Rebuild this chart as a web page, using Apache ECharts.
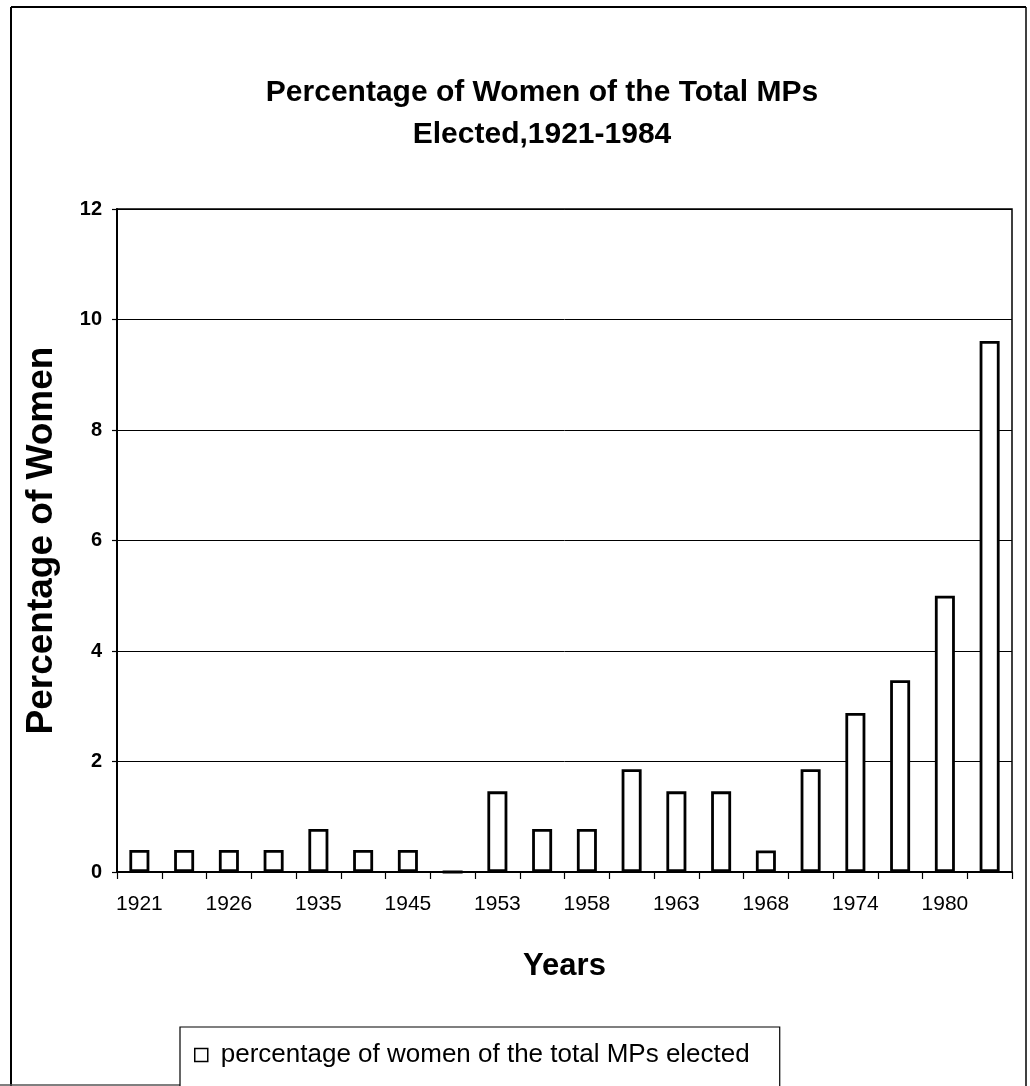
<!DOCTYPE html>
<html>
<head>
<meta charset="utf-8">
<script src="https://cdn.jsdelivr.net/npm/echarts@6/dist/echarts.min.js"></script>
<style>
  html, body { margin: 0; padding: 0; background: #fff; }
  #chart { width: 1030px; height: 1086px; }
</style>
</head>
<body>
<div id="chart"></div>
<script>
// Election years (every other label is visible on the axis; hidden ones are estimates)
const categories = ['1921','1923','1926','1930','1935','1940','1945','1949','1953','1955',
                    '1958','1960','1963','1965','1968','1970','1974','1977','1980','1984'];
// Percentage of women of the total MPs elected
const womenPct = [0.4, 0.4, 0.4, 0.4, 0.78, 0.4, 0.4, 0, 1.46, 0.78,
                  0.78, 1.86, 1.46, 1.46, 0.39, 1.86, 2.88, 3.47, 5.0, 9.61];
const yTicks = [0, 2, 4, 6, 8, 10, 12];

const FONT = "'Liberation Sans', Arial, sans-serif";
const chart = echarts.init(document.getElementById('chart'), null, { renderer: 'canvas' });

chart.setOption({
  backgroundColor: '#ffffff',
  animation: false,
  title: {
    text: 'Percentage of Women of the Total MPs\nElected,1921-1984',
    left: 542,
    textAlign: 'center',
    top: 72,
    padding: 0,
    textStyle: { fontFamily: FONT, fontSize: 30, fontWeight: 'bold', color: '#000', lineHeight: 42 }
  },
  grid: {
    left: 117, right: 18, top: 209, bottom: 214,
    show: true, borderColor: '#000', borderWidth: 1.5, backgroundColor: 'transparent'
  },
  legend: {
    data: ['percentage of women of the total MPs elected'],
    left: 180,
    top: 1027,
    orient: 'horizontal',
    padding: [15, 30, 40, 14],
    backgroundColor: '#fff',
    borderColor: '#000',
    borderWidth: 1.2,
    borderRadius: 0,
    itemWidth: 13,
    itemHeight: 13,
    icon: 'rect',
    itemStyle: { color: '#fff', borderColor: '#000', borderWidth: 1.5 },
    textStyle: { fontFamily: FONT, fontSize: 26, color: '#000', padding: [0, 0, 0, 8] }
  },
  xAxis: {
    type: 'category',
    data: categories,
    boundaryGap: true,
    name: 'Years',
    nameLocation: 'middle',
    nameGap: 79,
    nameTextStyle: { fontFamily: FONT, fontSize: 31, fontWeight: 'bold', color: '#000' },
    axisLine: { lineStyle: { color: '#000', width: 2 } },
    axisTick: { show: true, interval: 0, length: 7, lineStyle: { color: '#000', width: 1.2 } },
    axisLabel: { interval: 1, margin: 22, fontFamily: FONT, fontSize: 21, color: '#000' },
    splitLine: { show: false }
  },
  yAxis: {
    type: 'value',
    min: 0,
    max: 12,
    interval: 2,
    name: 'Percentage of Women',
    nameLocation: 'middle',
    nameGap: 57,
    nameTextStyle: { fontFamily: FONT, fontSize: 37, fontWeight: 'bold', color: '#000' },
    axisLine: { show: true, lineStyle: { color: '#000', width: 2 } },
    axisTick: { show: true, length: 5, lineStyle: { color: '#000', width: 1.2 } },
    axisLabel: {
      margin: 15, fontFamily: FONT, fontSize: 20, fontWeight: 'bold', color: '#000',
      formatter: v => (yTicks.indexOf(v) >= 0 ? String(v) : '')
    },
    splitLine: { show: true, lineStyle: { color: '#000', width: 1 } }
  },
  series: [{
    name: 'percentage of women of the total MPs elected',
    type: 'bar',
    data: womenPct,
    barWidth: 20,
    itemStyle: { color: '#ffffff', borderColor: '#000', borderWidth: 2.8 },
    emphasis: { disabled: true }
  }],
  graphic: [
    { type: 'line', shape: { x1: 11, y1: 7, x2: 11, y2: 1086 }, style: { stroke: '#000', lineWidth: 2 }, silent: true },
    { type: 'line', shape: { x1: 11, y1: 7, x2: 1026, y2: 7 }, style: { stroke: '#000', lineWidth: 2 }, silent: true },
    { type: 'line', shape: { x1: 1026, y1: 7, x2: 1026, y2: 1086 }, style: { stroke: '#000', lineWidth: 1.5 }, silent: true },
    { type: 'line', shape: { x1: 0, y1: 1085, x2: 360, y2: 1085 }, style: { stroke: '#555', lineWidth: 1.5 }, silent: true }
  ]
});
</script>
</body>
</html>
